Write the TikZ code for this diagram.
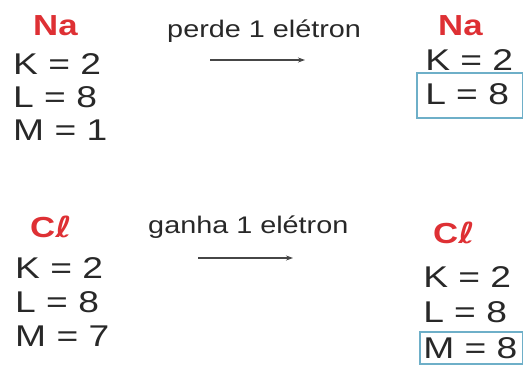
\documentclass[tikz,border=0pt]{standalone}
\usepackage{fontspec}
\setmainfont{Liberation Sans}
\newfontfamily\ellfont{DejaVu Sans}
\usetikzlibrary{arrows.meta}
\definecolor{elred}{RGB}{222,48,52}
\definecolor{txtgray}{RGB}{40,40,40}
\definecolor{boxblue}{RGB}{110,175,200}
\definecolor{arrgray}{RGB}{70,70,70}
\tikzset{
  shell/.style={anchor=base west, inner sep=0pt, xscale=1.24, text=txtgray, font=\fontsize{30}{30}\selectfont},
  elem/.style={anchor=base west, inner sep=0pt, xscale=1.2, text=elred, font=\bfseries\fontsize{29}{29}\selectfont},
  lbl/.style={anchor=base west, inner sep=0pt, xscale=1.2, text=txtgray, font=\fontsize{24}{24}\selectfont},
  react/.style={draw=arrgray, line width=1.1pt, -{Stealth[length=7pt,width=5pt]}},
  shellbox/.style={draw=boxblue, line width=1.2pt}
}
\newcommand{\Cl}{C{\ellfont\bfseries ℓ}}
\begin{document}
\begin{tikzpicture}[x=1pt,y=-1pt]
\useasboundingbox (0,0) rectangle (523,368);
% top left
\node[elem] (na1) at (33,35) {Na};
\node[shell] (na1k) at (13,74) {K = 2};
\node[shell] (na1l) at (13,107) {L = 8};
\node[shell] (na1m) at (13,140) {M = 1};
% top label and arrow
\node[lbl] (perde) at (167,37) {perde 1 elétron};
\coordinate (p1) at (210,60);
\coordinate (p2) at (305,60);
\draw[react] (p1) -- (p2);
% top right
\node[elem] (na2) at (438,35) {Na};
\node[shell] (na2k) at (425,70) {K = 2};
\node[shell] (na2l) at (425,104) {L = 8};
\draw[shellbox] (417,73) rectangle (522.4,118);
% bottom left
\node[elem] (cl1) at (30,237) {\Cl};
\node[shell] (cl1k) at (15,278) {K = 2};
\node[shell] (cl1l) at (15,312) {L = 8};
\node[shell] (cl1m) at (15,346) {M = 7};
% bottom label and arrow
\node[lbl] (ganha) at (148,233) {ganha 1 elétron};
\coordinate (g1) at (198,258);
\coordinate (g2) at (293,258);
\draw[react] (g1) -- (g2);
% bottom right
\node[elem] (cl2) at (433,243) {\Cl};
\node[shell] (cl2k) at (423,287) {K = 2};
\node[shell] (cl2l) at (423,322) {L = 8};
\node[shell] (cl2m) at (423,358) {M = 8};
\draw[shellbox] (420,332) rectangle (522.4,364);
\end{tikzpicture}
\end{document}
